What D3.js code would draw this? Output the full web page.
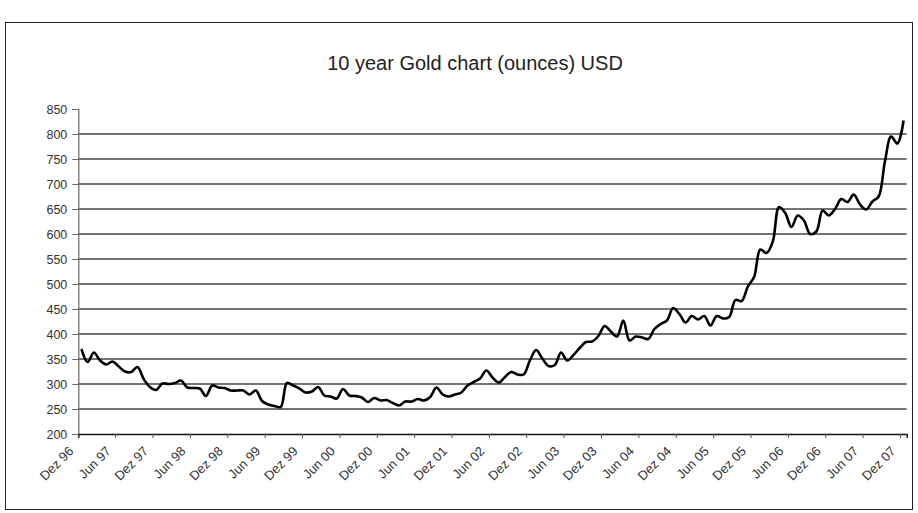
<!DOCTYPE html>
<html lang="de">
<head>
    <meta charset="UTF-8">
    <title>10 year Gold chart</title>
    <script src="https://d3js.org/d3.v7.min.js"></script>
    <style>
        body { margin: 0; background: #fff; }
        svg { display: block; font-family: 'Liberation Sans', Arial, sans-serif; }
        .title { font-size: 20px; fill: #222; }
        .tick-label { font-size: 12.5px; fill: #333; }
        .x-label { font-size: 13px; fill: #333; }
        .grid { stroke: #444; stroke-width: 1.3; }
        .gold-line { fill: none; stroke: #000; stroke-width: 2.6; }
    </style>
</head>
<body>
    <svg id="chart" width="918" height="513"></svg>

    <script>
        // monthly gold price (USD/oz), Dez 96 .. Dez 07
        const prices = [
            370, 344, 363, 347, 339, 345, 335, 325, 324, 334, 310, 294,
            288, 301, 300, 302, 307, 293, 292, 291, 276, 297, 293, 292,
            287, 287, 287, 279, 287, 266, 259, 256, 254, 302, 297, 291,
            283, 285, 294, 277, 275, 271, 290, 277, 276, 273, 264, 272,
            267, 268, 262, 257, 265, 265, 270, 267, 274, 293, 279, 275,
            279, 283, 297, 304, 311, 327, 313, 303, 314, 324, 319, 319,
            347, 368, 351, 336, 338, 363, 347, 358, 372, 384, 385, 396,
            416, 405, 395, 427, 387, 395, 393, 390, 410, 420, 427, 452,
            440, 423, 436, 429, 436, 417, 436, 431, 434, 468, 466, 495,
            514, 569, 562, 585, 654, 642, 614, 637, 627, 600, 605, 647,
            637, 650, 670, 664, 679, 659, 649, 665, 675, 745, 795, 781,
            827
        ];
        const tickLabels = [
            "Dez 96", "Jun 97", "Dez 97", "Jun 98", "Dez 98", "Jun 99", "Dez 99",
            "Jun 00", "Dez 00", "Jun 01", "Dez 01", "Jun 02", "Dez 02", "Jun 03",
            "Dez 03", "Jun 04", "Dez 04", "Jun 05", "Dez 05", "Jun 06", "Dez 06",
            "Jun 07", "Dez 07"
        ];
        const yTicks = [200, 250, 300, 350, 400, 450, 500, 550, 600, 650, 700, 750, 800, 850];
        const labelStep = 6;

        const svg = d3.select("#chart");
        const plotLeft = 78.3, plotRight = 906.7, plotTop = 109, plotBottom = 434;

        // outer frame
        svg.append("rect")
            .attr("x", 5.5).attr("y", 22.5)
            .attr("width", 907).attr("height", 487)
            .attr("fill", "none").attr("stroke", "#222").attr("stroke-width", 1);

        svg.append("text")
            .attr("class", "title")
            .attr("x", 475).attr("y", 70)
            .attr("text-anchor", "middle")
            .text("10 year Gold chart (ounces) USD");

        const x = d3.scaleBand()
            .domain(d3.range(prices.length))
            .range([plotLeft, plotRight]);
        const y = d3.scaleLinear()
            .domain([200, 850])
            .range([plotBottom, plotTop]);

        // horizontal grid
        svg.append("g")
            .selectAll("line")
            .data(yTicks.filter(v => v > 200 && v < 850))
            .join("line")
            .attr("class", "grid")
            .attr("x1", plotLeft).attr("x2", plotRight)
            .attr("y1", d => y(d)).attr("y2", d => y(d));

        // y axis
        const yAxis = svg.append("g")
            .attr("transform", `translate(${plotLeft},0)`)
            .call(d3.axisLeft(y).tickValues(yTicks).tickSize(6).tickPadding(5));
        yAxis.select(".domain").attr("stroke", "#666").attr("stroke-width", 1.2);
        yAxis.selectAll(".tick line").attr("stroke", "#666");
        yAxis.selectAll(".tick text")
            .attr("class", "tick-label")
            .style("font-family", "'Liberation Sans', Arial, sans-serif");

        // x axis
        const tickIdx = d3.range(0, prices.length, labelStep);
        const xAxis = svg.append("g")
            .attr("transform", `translate(0,${plotBottom})`)
            .call(d3.axisBottom(x).tickValues(tickIdx).tickSize(4)
                .tickFormat((d, i) => tickLabels[i]));
        xAxis.select(".domain").attr("stroke", "#111").attr("stroke-width", 1.4);
        xAxis.selectAll(".tick").attr("transform", d => `translate(${x(d)},0)`);
        xAxis.selectAll(".tick line").attr("stroke", "#555");
        xAxis.selectAll(".tick text")
            .attr("class", "x-label")
            .style("font-family", "'Liberation Sans', Arial, sans-serif")
            .attr("text-anchor", "end")
            .attr("x", 0).attr("y", 0).attr("dy", 0)
            .attr("transform", "translate(-4,18) rotate(-45)");

        // the price line
        const line = d3.line()
            .x((d, i) => x(i) + x.bandwidth() / 2)
            .y(d => y(d))
            .curve(d3.curveCatmullRom.alpha(0.5));

        svg.append("path")
            .datum(prices)
            .attr("class", "gold-line")
            .attr("stroke-linejoin", "round")
            .attr("d", line);
    </script>
</body>
</html>
